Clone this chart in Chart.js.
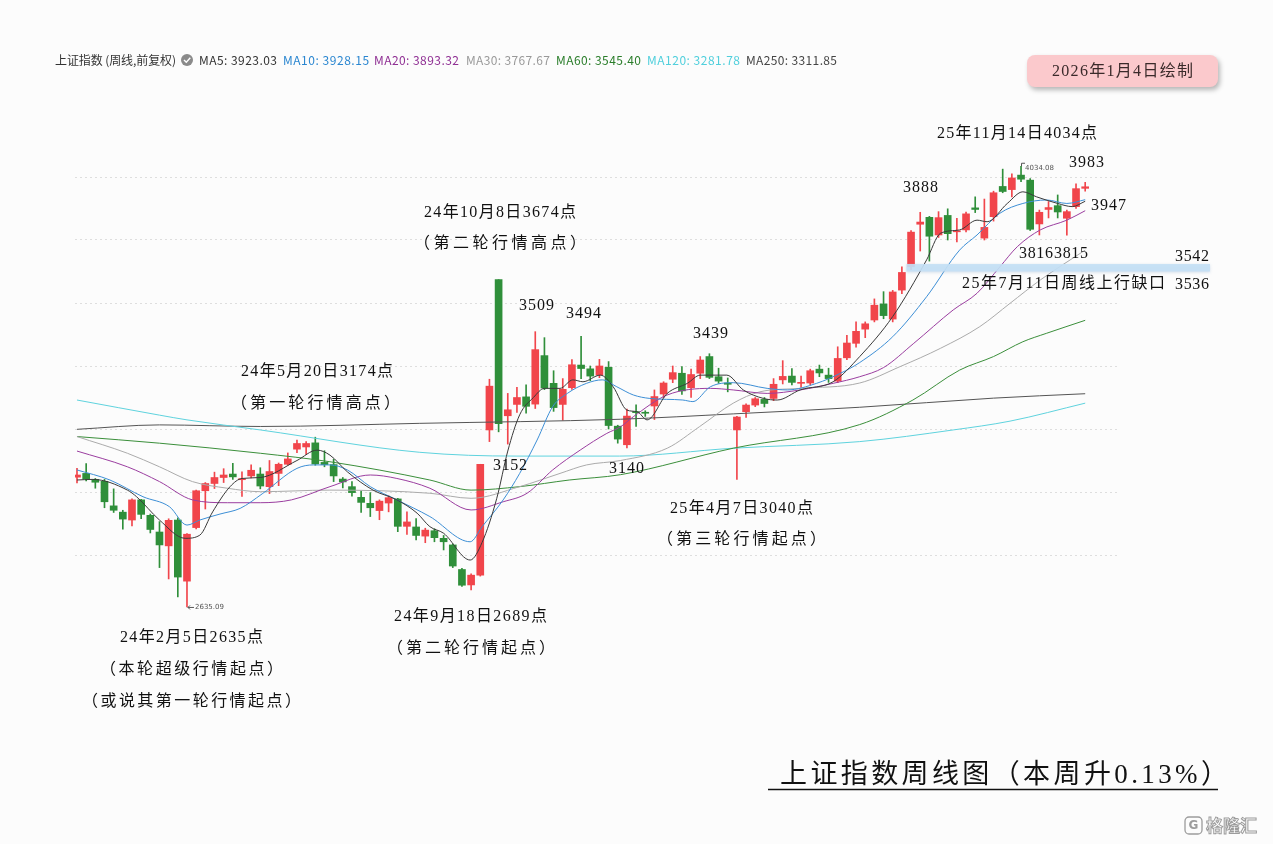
<!DOCTYPE html>
<html><head><meta charset="utf-8">
<script src="https://cdn.jsdelivr.net/npm/chart.js@4.4.1/dist/chart.umd.min.js"></script>
<style>html,body{margin:0;padding:0;background:#fcfcfc;overflow:hidden}canvas{display:block}</style>
</head><body>
<canvas id="c" width="1273" height="844"></canvas>
<script>
// ===== Weekly candles (index 0 = week of 2023-11-13, last = week of 2025-12-29) =====
const opens  = [3047,3059,3040,3034,2956,2936,2911,2975,2926,2873,2829,2911,2717,2887,3004,3027,3046,3057,3039,3051,
3057,3017,3059,3088,3136,3143,3156,3094,3087,3041,3017,2983,2964,2941,2965,2978,2891,2889,2860,2877,
2853,2832,2754,2705,2736,3197,3674,3242,3278,3302,3279,3433,3345,3278,3331,3403,3391,3371,3396,3209,
3150,3254,3253,3273,3311,3358,3377,3331,3377,3430,3366,3346,3197,3255,3276,3294,3297,3356,3368,3345,
3346,3390,3371,3352,3426,3472,3517,3546,3597,3549,3641,3715,3850,3872,3816,3878,3826,3832,3902,3806,
3874,3970,3960,4006,3990,3851,3897,3909,3869,3906,3964];
const highs  = [3075,3090,3043,3040,3010,2942,2978,2977,2930,2906,2915,2918,2868,3006,3030,3063,3074,3091,3064,3086,
3077,3100,3092,3124,3165,3160,3174,3131,3104,3046,3033,3003,2998,2975,2988,2980,2937,2916,2885,2883,
2862,2835,2758,2740,3088,3358,3674,3313,3332,3340,3509,3490,3385,3360,3420,3494,3400,3421,3414,3212,
3263,3277,3258,3324,3350,3400,3398,3390,3430,3439,3393,3362,3240,3280,3300,3300,3360,3417,3392,3368,
3390,3403,3393,3461,3497,3540,3540,3613,3636,3640,3715,3830,3888,3875,3890,3899,3869,3889,3937,3930,
3955,4025,4010,4034,3995,3895,3922,3943,3895,3978,3983];
const lows   = [3029,3035,3012,2950,2935,2882,2892,2915,2870,2760,2724,2667,2635,2883,2946,3011,3030,3040,2986,3045,
3010,2995,3020,3085,3125,3119,3085,3080,3033,3013,2987,2935,2922,2912,2937,2874,2865,2848,2839,2842,
2816,2760,2700,2689,2733,3160,3191,3152,3253,3250,3265,3325,3256,3228,3326,3360,3353,3363,3200,3155,
3140,3208,3240,3230,3300,3347,3310,3300,3360,3360,3345,3318,3040,3237,3271,3270,3290,3343,3340,3332,
3340,3366,3348,3347,3420,3460,3490,3540,3550,3540,3630,3706,3765,3733,3808,3800,3794,3826,3887,3800,
3860,3950,3937,3985,3830,3816,3870,3870,3815,3900,3955];
const closes = [3054,3041,3031,2969,2942,2914,2975,2929,2881,2832,2910,2730,2866,3004,3027,3046,3054,3048,3041,3069,
3019,3065,3088,3105,3154,3154,3089,3087,3051,3032,2998,2967,2950,2971,2982,2891,2905,2862,2879,2855,
2842,2765,2704,2736,3088,3336,3217,3261,3300,3272,3452,3330,3268,3326,3404,3392,3368,3400,3211,3168,
3241,3252,3250,3303,3346,3379,3321,3373,3419,3364,3352,3342,3238,3276,3296,3281,3342,3367,3348,3347,
3385,3378,3360,3424,3473,3510,3534,3593,3560,3635,3697,3825,3857,3812,3871,3820,3828,3883,3897,3840,
3950,3954,3997,3993,3834,3888,3903,3889,3890,3963,3969];

// ===== Moving averages: [week index, value] =====
const ma5Pts = [[0,3038],[1.7,3040],[5.5,3006],[6.5,2985],[9,2911],[11.8,2853],[13.4,2863],[14.8,2937],[16.7,3017],[18,3043],[20,3046],[24,3100],[26.2,3133],[27.6,3117],[29.5,3064],[32.3,3006],[34.9,2975],[37.1,2933],[38.5,2890],[40,2869],[42.9,2784],[44.2,2840],[45.8,2980],[47,3130],[48.3,3245],[49.8,3300],[51,3329],[52.7,3329],[54.1,3356],[55.2,3350],[57.1,3371],[58.5,3334],[60,3260],[61.1,3255],[62.2,3229],[64.4,3313],[66.6,3345],[68,3371],[70.9,3371],[72.7,3324],[74.9,3297],[76.4,3292],[78.9,3324],[82.5,3350],[85.4,3430],[89,3557],[92.7,3737],[94.2,3821],[96.3,3832],[98.2,3863],[99.3,3858],[101.5,3916],[103.2,3953],[104.7,3937],[107,3916],[108.6,3906],[110,3923]];
const ma10Pts = [[0,3070],[3.6,3038],[7.2,2985],[10.1,2953],[12,2895],[13.4,2911],[15.6,2930],[17.8,2948],[20.2,2994],[24,3075],[25.8,3086],[27.6,3086],[29.5,3070],[32,3017],[34.9,2975],[38.5,2922],[42.9,2842],[44.2,2890],[46.5,2975],[48.3,3059],[50.2,3165],[51.9,3271],[53.5,3313],[55.6,3345],[57.3,3356],[58.9,3334],[60.7,3308],[62.5,3297],[66.1,3292],[67.2,3287],[69.1,3334],[71.6,3347],[75.3,3329],[77.5,3324],[80.7,3345],[83.3,3377],[85.4,3411],[89,3493],[92.7,3620],[96.3,3768],[98.2,3816],[100.7,3885],[103.2,3916],[105.8,3927],[108,3916],[110,3928]];
const ma20Pts = [[0,3130],[5.5,3080],[9,3033],[12.6,2975],[16.4,2966],[20,2966],[23.4,2975],[27.6,3017],[32,3054],[34.9,3043],[38.5,3012],[43,2943],[46.5,2969],[49.1,2996],[51.9,3070],[54.9,3133],[57.8,3186],[59.3,3207],[60.7,3239],[64.4,3308],[69.1,3329],[71.6,3324],[75.3,3313],[78.9,3324],[82.5,3345],[85.4,3366],[88,3395],[91.3,3472],[95.6,3578],[98.2,3631],[100.7,3715],[102.6,3779],[105.1,3832],[108,3863],[110,3893]];
const ma30Pts = [[0,3176],[5.5,3123],[9,3080],[12.6,3033],[16.4,3012],[20,3001],[27.6,3006],[38.5,2996],[43,2980],[48.3,3017],[52.7,3059],[55.6,3086],[59.3,3100],[64.4,3139],[67.9,3207],[71.6,3282],[74.5,3318],[78.9,3329],[85.4,3346],[89.8,3398],[94.2,3456],[98.5,3525],[101.8,3599],[105.1,3673],[110,3768]];
const ma60Pts = [[0,3176],[9,3155],[20,3123],[27.6,3096],[38.5,3038],[43,3006],[48.3,3017],[53.7,3038],[59.3,3055],[71.6,3139],[85.4,3214],[91.2,3292],[96.3,3387],[100,3430],[103.2,3477],[105.8,3504],[110,3545]];
const ma120Pts = [[0,3292],[9,3244],[12,3229],[20,3197],[37.4,3126],[48,3114],[59.2,3114],[71.6,3139],[85.4,3160],[95.6,3197],[101.8,3225],[110,3282]];
const ma250Pts = [[0,3199],[9,3213],[20,3208],[37.4,3218],[59.3,3231],[71.6,3248],[85.4,3269],[100,3298],[110,3312]];

const maNames = ['MA5','MA10','MA20','MA30','MA60','MA120','MA250'];
const maLast  = ['3923.03','3928.15','3893.32','3767.67','3545.40','3281.78','3311.85'];
const gridValues = [2800,3000,3200,3400,3600,3800,4000];
const gapBand = [3700, 3724];          // blue band as drawn in the picture
const lowMark = {index:12, value:2635.09};
const highMark = {index:103, value:4034.08};

// ===== styles / layout =====
const UP = '#f1454b', DOWN = '#2f8f3a';
const maColors = ['#3a3a3a','#3d8fd6','#9b3ea0','#ababab','#3b8f3b','#5fd3de','#555555'];
const legendColors = ['#333333','#2a86d0','#8f2f93','#999999','#2a7d2a','#4fcfdc','#444444'];
const legendX = [[199,277],[283,369],[374,459],[466,550],[556,641],[647,740],[746,837]];
const SERIF = '"Liberation Serif","Noto Sans CJK SC",serif';

const annotations = [
  {t:'25年11月14日4034点', x0:937, x1:1097, y:134},
  {t:'3983', x0:1069, x1:1104, y:163},
  {t:'3888', x0:903, x1:938, y:188},
  {t:'3947', x0:1091, x1:1126, y:206},
  {t:'24年10月8日3674点', x0:424, x1:576, y:213},
  {t:'（第二轮行情高点）', x0:414, x1:586, y:244},
  {t:'3816', x0:1019, x1:1053, y:254},
  {t:'3815', x0:1054, x1:1088, y:254},
  {t:'3542', x0:1175, x1:1209, y:257},
  {t:'25年7月11日周线上行缺口', x0:962, x1:1165, y:284},
  {t:'3536', x0:1175, x1:1209, y:285},
  {t:'3509', x0:519, x1:554, y:306},
  {t:'3494', x0:566, x1:601, y:314},
  {t:'3439', x0:693, x1:728, y:334},
  {t:'24年5月20日3174点', x0:241, x1:393, y:372},
  {t:'（第一轮行情高点）', x0:231, x1:400, y:404},
  {t:'3152', x0:493, x1:527, y:466},
  {t:'3140', x0:609, x1:644, y:469},
  {t:'25年4月7日3040点', x0:670, x1:813, y:509},
  {t:'（第三轮行情起点）', x0:657, x1:826, y:540},
  {t:'24年9月18日2689点', x0:394, x1:547, y:617},
  {t:'（第二轮行情起点）', x0:387, x1:555, y:649},
  {t:'24年2月5日2635点', x0:120, x1:263, y:638},
  {t:'（本轮超级行情起点）', x0:100, x1:283, y:670},
  {t:'（或说其第一轮行情起点）', x0:82, x1:301, y:702}
];

function fitText(ctx, text, x0, x1, yc, font, color) {
  ctx.save();
  ctx.font = font; ctx.fillStyle = color;
  ctx.textBaseline = 'middle'; ctx.textAlign = 'left';
  if ('letterSpacing' in ctx) ctx.letterSpacing = '0px';
  const w = ctx.measureText(text).width;
  const n = [...text].length;
  if (n > 1 && 'letterSpacing' in ctx) {
    let sp = ((x1 - x0) - w) / (n - 1);
    sp = Math.max(-3, Math.min(8, sp));
    ctx.letterSpacing = sp.toFixed(2) + 'px';
  }
  ctx.fillText(text, x0, yc);
  ctx.restore();
}

const idx = closes.map((_, i) => i);
const candleColors = idx.map(i => closes[i] >= opens[i] ? UP : DOWN);
const bodies = idx.map(i => ({x: i, y: [opens[i], closes[i]]}));
const wicks  = idx.map(i => ({x: i, y: [lows[i], highs[i]]}));
const toPts = a => a.map(p => ({x: p[0], y: p[1]}));
const maData = [ma5Pts, ma10Pts, ma20Pts, ma30Pts, ma60Pts, ma120Pts, ma250Pts];

const bgPlugin = {
  id: 'bg',
  beforeDraw(chart) {
    const c = chart.ctx; c.save(); c.fillStyle = '#fcfcfc';
    c.fillRect(0, 0, chart.width, chart.height); c.restore();
  }
};

const decoPlugin = {
  id: 'deco',
  afterDatasetsDraw(chart) {
    const c = chart.ctx, xs = chart.scales.x, ys = chart.scales.y;
    // gap band
    c.save();
    const yTop = ys.getPixelForValue(gapBand[1]), yBot = ys.getPixelForValue(gapBand[0]);
    const xa = xs.getPixelForValue(90.5);
    c.shadowColor = 'rgba(120,160,200,0.35)'; c.shadowBlur = 3; c.shadowOffsetY = 1;
    c.fillStyle = 'rgba(196,224,245,0.9)';
    c.fillRect(xa, yTop, 1210 - xa, yBot - yTop);
    c.restore();
    // low / high tiny labels
    c.save();
    c.fillStyle = '#555'; c.strokeStyle = '#555'; c.lineWidth = 1;
    c.font = '7px "DejaVu Sans"'; c.textBaseline = 'middle';
    let lx = xs.getPixelForValue(lowMark.index), ly = ys.getPixelForValue(lowMark.value);
    c.beginPath(); c.moveTo(lx + 1, ly + 0.5); c.lineTo(lx + 7, ly + 0.5); c.stroke();
    c.beginPath(); c.moveTo(lx + 1, ly + 0.5); c.lineTo(lx + 3, ly - 1.5); c.moveTo(lx + 1, ly + 0.5); c.lineTo(lx + 3, ly + 2.5); c.stroke();
    c.fillText(lowMark.value.toFixed(2), lx + 8, ly + 0.5);
    let hx = xs.getPixelForValue(highMark.index), hy = ys.getPixelForValue(highMark.value);
    c.beginPath(); c.moveTo(hx + 0.5, hy); c.lineTo(hx + 0.5, hy - 3); c.lineTo(hx + 4, hy - 3); c.stroke();
    c.fillText(highMark.value.toFixed(2), hx + 4, hy + 1.5);
    c.restore();
  },
  afterDraw(chart) {
    const c = chart.ctx;
    // legend row
    fitText(c, '上证指数 (周线,前复权)', 55, 176, 60, '12px "Noto Sans CJK SC"', '#333');
    c.save();
    c.fillStyle = '#8a8a8a'; c.beginPath(); c.arc(187, 60, 6, 0, Math.PI * 2); c.fill();
    c.strokeStyle = '#fff'; c.lineWidth = 1.4; c.beginPath();
    c.moveTo(184, 60); c.lineTo(186.3, 62.3); c.lineTo(190.3, 57.8); c.stroke();
    c.restore();
    maNames.forEach((n, k) => {
      fitText(c, n + ': ' + maLast[k], legendX[k][0], legendX[k][1], 60, '12px "Noto Sans CJK SC"', legendColors[k]);
    });
    // date box
    c.save();
    c.shadowColor = 'rgba(0,0,0,0.28)'; c.shadowBlur = 5; c.shadowOffsetX = 2; c.shadowOffsetY = 3;
    c.fillStyle = '#fbc9cc';
    c.beginPath(); c.roundRect(1027, 55, 191, 32, 8); c.fill();
    c.restore();
    fitText(c, '2026年1月4日绘制', 1052, 1193, 72, '16px ' + SERIF, '#3a2a2a');
    // annotations
    annotations.forEach(a => fitText(c, a.t, a.x0, a.x1, a.y, '16px ' + SERIF, '#111'));
    // title
    fitText(c, '上证指数周线图（本周升0.13%）', 780, 1228, 776, '27px ' + SERIF, '#111');
    c.save(); c.strokeStyle = '#111'; c.lineWidth = 1.5;
    c.beginPath(); c.moveTo(768, 789.5); c.lineTo(1218, 789.5); c.stroke(); c.restore();
    // watermark
    c.save();
    c.strokeStyle = '#9c9c9c'; c.lineWidth = 1.3;
    c.beginPath(); c.roundRect(1185, 817, 17, 17, 4); c.stroke();
    c.fillStyle = '#9c9c9c'; c.font = 'bold 12px "DejaVu Sans"'; c.textAlign = 'center'; c.textBaseline = 'middle';
    c.fillText('G', 1193.5, 826);
    c.font = 'bold 17px "Noto Sans CJK SC"'; c.textAlign = 'left';
    c.fillStyle = '#ffffff'; c.fillText('格隆汇', 1206, 826);
    c.lineWidth = 1; c.strokeText('格隆汇', 1206, 826);
    c.restore();
  }
};

new Chart(document.getElementById('c'), {
  type: 'bar',
  data: {
    datasets: [
      ...maData.map((d, k) => ({
        type: 'line', label: maNames[k], data: toPts(d), borderColor: maColors[k],
        borderWidth: 1, pointRadius: 0, fill: false, cubicInterpolationMode: 'monotone', order: 0
      })),
      {type: 'bar', label: 'body', data: bodies, backgroundColor: candleColors, barThickness: 7,
       grouped: false, minBarLength: 1, borderWidth: 0, order: 1},
      {type: 'bar', label: 'wick', data: wicks, backgroundColor: candleColors, barThickness: 1,
       grouped: false, borderWidth: 0, order: 2}
    ]
  },
  options: {
    responsive: false, animation: false, events: [],
    layout: {padding: {left: 75, right: 155, top: 114, bottom: 100}},
    plugins: {legend: {display: false}, tooltip: {enabled: false}},
    scales: {
      x: {type: 'linear', min: -0.218, max: 113.58, offset: false, display: false},
      y: {type: 'linear', min: 2200, max: 4200, display: true,
          afterBuildTicks: s => { s.ticks = [2200,2400,2600].concat(gridValues).map(v => ({value: v})); },
          ticks: {display: false},
          grid: {drawTicks: false, lineWidth: 1,
                 color: ctx => gridValues.includes(ctx.tick && ctx.tick.value) ? '#dedede' : 'rgba(0,0,0,0)'},
          border: {display: false, dash: [2, 3]}}
    }
  },
  plugins: [bgPlugin, decoPlugin]
});
</script>
</body></html>
